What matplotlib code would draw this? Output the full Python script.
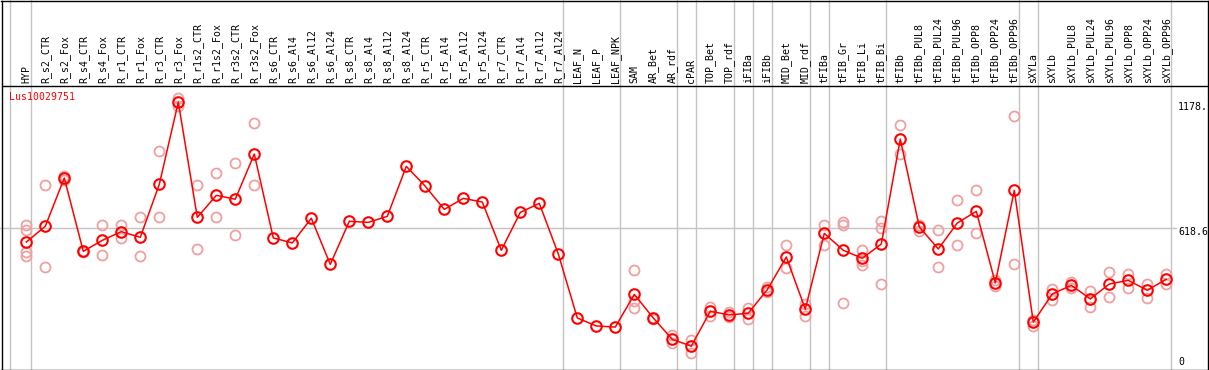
import matplotlib
matplotlib.use("Agg")
import matplotlib.pyplot as plt
from matplotlib.lines import Line2D
import matplotlib.transforms as mtransforms

W, H = 1209, 370

title = "Lus10029751"
categories = ["HYP", "R_s2_CTR", "R_s2_Fox", "R_s4_CTR", "R_s4_Fox", "R_r1_CTR", "R_r1_Fox",
              "R_r3_CTR", "R_r3_Fox", "R_r1s2_CTR", "R_r1s2_Fox", "R_r3s2_CTR", "R_r3s2_Fox",
              "R_s6_CTR", "R_s6_Al4", "R_s6_Al12", "R_s6_Al24", "R_s8_CTR", "R_s8_Al4",
              "R_s8_Al12", "R_s8_Al24", "R_r5_CTR", "R_r5_Al4", "R_r5_Al12", "R_r5_Al24",
              "R_r7_CTR", "R_r7_Al4", "R_r7_Al12", "R_r7_Al24", "LEAF_N", "LEAF_P", "LEAF_NPK",
              "SAM", "AR_Bet", "AR_rdf", "cPAR", "TOP_Bet", "TOP_rdf", "iFIBa", "iFIBb",
              "MID_Bet", "MID_rdf", "tFIBa", "tFIB_Gr", "tFIB_Li", "tFIB_Bi", "tFIBb",
              "tFIBb_PUL8", "tFIBb_PUL24", "tFIBb_PUL96", "tFIBb_OPP8", "tFIBb_OPP24",
              "tFIBb_OPP96", "sXYLa", "sXYLb", "sXYLb_PUL8", "sXYLb_PUL24", "sXYLb_PUL96",
              "sXYLb_OPP8", "sXYLb_OPP24", "sXYLb_OPP96"]

means = [555, 628, 851, 512, 563, 603, 577, 822, 1202, 669, 771, 753, 962,
         574, 551, 665, 452, 651, 646, 674, 905, 813, 706, 757, 740,
         517, 692, 734, 500, 204, 167, 162,
         313, 204, 105, 74, 235, 218, 226, 335,
         486, 245, 595, 517, 480, 546, 1031,
         625, 523, 643, 697, 366, 794,
         185, 315, 355, 292, 361, 378, 332, 383]

replicates = [[632, 609, 508, 489], [817, 438], [860, 842], [515, 508], [634, 494],
              [634, 572], [669, 490], [974, 669], [1221, 1183], [820, 521], [873, 669],
              [919, 588], [1105, 817],
              [], [], [], [], [], [], [], [], [], [], [], [],
              [], [], [], [], [], [], [],
              [424, 281, 250], [206, 200], [124, 88], [102, 41], [256, 212], [232, 207],
              [251, 201], [347, 323],
              [540, 434], [269, 215], [632, 540], [648, 635, 273], [517, 469, 450],
              [651, 620, 360], [1096, 963],
              [635, 605], [609, 438], [749, 541], [794, 597], [381, 350], [1136, 452],
              [194, 167], [339, 286], [370, 343], [327, 253], [415, 302], [406, 344],
              [362, 298], [406, 362]]

group_ends = ["HYP", "R_r7_Al24", "LEAF_NPK", "AR_rdf", "cPAR", "TOP_rdf", "iFIBa", "iFIBb",
              "MID_rdf", "tFIBa", "tFIB_Bi", "tFIBb_OPP96", "sXYLa", "sXYLb_OPP96"]

ref_value = 618.6
max_label = "1178."
max_value = 1178

# pixel geometry
x0px, dxpx = 26.3, 19.0
vscale = 0.2163
y0px = 362.1
ax_top, ax_bot, ax_left, ax_right = 85, 369, 1, 1207

fig = plt.figure(figsize=(W / 100, H / 100), dpi=100)
fig.patch.set_facecolor("white")
ax = fig.add_axes([ax_left / W, 1 - ax_bot / H, (ax_right - ax_left) / W, (ax_bot - ax_top) / H])
ax.set_xlim((ax_left - x0px) / dxpx, (ax_right - x0px) / dxpx)
ax.set_ylim((y0px - ax_bot) / vscale, (y0px - ax_top) / vscale)
ax.axis("off")

mono = "DejaVu Sans Mono"
fs = 7.1
grey = "#c4c4c4"

n = len(categories)
xs = list(range(n))

# vertical group lines (extend through label area)
top_axes = (ax_bot - 0) / (ax_bot - ax_top)
off = 4.3 / dxpx
line_pos = [-1 + off - 1.4 / dxpx] + [categories.index(g) + off for g in group_ends]
for xp in line_pos:
    ax.axvline(xp, ymin=0, ymax=top_axes, color=grey, lw=1.0, clip_on=False, zorder=1)

# horizontal reference line
ax.plot([(0 - x0px) / dxpx, (1176 - x0px) / dxpx], [ref_value, ref_value], color=grey, lw=1.0,
        zorder=1, clip_on=False)

# replicates
for i, reps in enumerate(replicates):
    for v in reps:
        ax.plot(i, v, "o", mfc="none", mec="#f0a0a0", ms=7.2, mew=1.3, zorder=2)

# mean line
ax.plot(xs, means, "-", color="red", lw=1.1, zorder=3)
ax.plot(xs, means, "o", mfc="none", mec="red", ms=7.6, mew=1.5, zorder=4)

# category labels
btrans = mtransforms.blended_transform_factory(ax.transData, ax.transAxes)
for i, c in enumerate(categories):
    ax.text(i, 1 + 2.0 / (ax_bot - ax_top), c, transform=btrans, rotation=90, ha="center",
            va="bottom", fontsize=fs, family=mono, color="black", clip_on=False)

# title
ax.text(9.5 / W, 1 - 97 / H, title, transform=fig.transFigure, ha="left", va="center",
        fontsize=fs, family=mono, color="red")

# right value labels
xl = (1178 - x0px) / dxpx
ax.text(xl, max_value, max_label, ha="left", va="center", fontsize=fs, family=mono, color="black")
ax.annotate(f"{ref_value}", (xl, ref_value), xytext=(0, -4), textcoords="offset pixels",
            ha="left", va="center", fontsize=fs, family=mono, color="black")
ax.text(xl, 0, "0", ha="left", va="center", fontsize=fs, family=mono, color="black")

# frame
def fx(x):
    return x / W

def fy(y):
    return 1 - y / H

frame = [((0.5, 0.5), (1207.5, 0.5)), ((1207.5, 0.5), (1207.5, 369.5)),
         ((1207.5, 369.5), (0.5, 369.5)), ((1.5, 369.5), (1.5, 0.5)),
         ((1.5, 85.5), (1207.5, 85.5))]
for (xa, ya), (xb, yb) in frame:
    fig.add_artist(Line2D([fx(xa), fx(xb)], [fy(ya), fy(yb)], color="black", lw=1.0,
                          transform=fig.transFigure))

fig.savefig("out.png", dpi=100, facecolor="white")
